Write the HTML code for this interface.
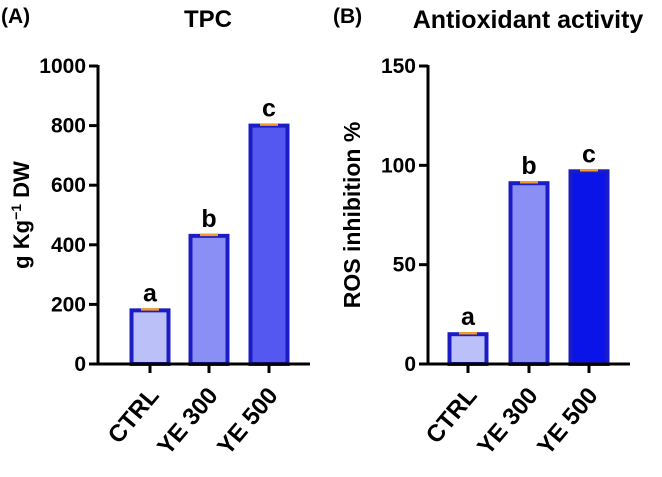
<!DOCTYPE html>
<html><head><meta charset="utf-8"><style>
body{margin:0;background:#fff;width:662px;height:472px;overflow:hidden}
svg{font-family:"Liberation Sans",Arial,sans-serif;font-weight:bold}
</style></head><body>
<svg id="c" width="662" height="472">
<text x="1" y="23" font-size="21">(A)</text>
<text x="208" y="27" font-size="24" text-anchor="middle">TPC</text>
<text x="333" y="23" font-size="21">(B)</text>
<text x="528" y="28" font-size="25" text-anchor="middle">Antioxidant activity</text>
<text transform="translate(29,215) rotate(-90)" font-size="22" text-anchor="middle">g Kg<tspan dy="-8" font-size="14">−1</tspan><tspan dy="8"> DW</tspan></text>
<text transform="translate(360,215) rotate(-90)" font-size="23" text-anchor="middle">ROS inhibition %</text>
</svg>
<script>
const categories=["CTRL","YE 300","YE 500"];
const tpcValues=[180,430,800];
const tpcLetters=["a","b","c"];
const tpcTicks=[0,200,400,600,800,1000];
const rosValues=[15,91,97];
const rosLetters=["a","b","c"];
const rosTicks=[0,50,100,150];
const svg=document.getElementById('c');
const NS="http://www.w3.org/2000/svg";
function mk(t,a){const e=document.createElementNS(NS,t);for(const k in a)e.setAttribute(k,a[k]);svg.appendChild(e);return e;}
function panel(p,axX,axEnd,centers,vals,letters,ticks,max,fills){
  const y0=364,y1=66;
  const Y=v=>y0-(v/max)*(y0-y1);
  vals.forEach((v,i)=>{
    const cx=centers[i],w=37;
    const r=mk('rect',{x:cx-w/2,y:Y(v),width:w,height:y0-Y(v),fill:fills[i],stroke:'#1c1cc4','stroke-width':4});
    
    
    const e=mk('line',{x1:cx-9,x2:cx+9,y1:Y(v)-1,y2:Y(v)-1,stroke:'#f39a2c','stroke-width':2.5});
    
    
    const t=mk('text',{x:cx,y:Y(v)-9,'font-size':25,'text-anchor':'middle'});t.textContent=letters[i];
    
    
    const tk=mk('line',{x1:cx,x2:cx,y1:y0,y2:y0+9,stroke:'#000','stroke-width':3});
    
    
    const lb=mk('text',{transform:`translate(${cx+10},${y0+32}) rotate(-50)`,'font-size':24,'text-anchor':'end'});lb.textContent=categories[i];
    
    
  });
  ticks.forEach(t=>{
    const l=mk('line',{x1:axX-9,x2:axX,y1:Y(t),y2:Y(t),stroke:'#000','stroke-width':3});
    
    
    const tx=mk('text',{x:axX-12,y:Y(t)+7,'font-size':21,'text-anchor':'end'});tx.textContent=t;
    
    
  });
  const ya=mk('line',{x1:axX,x2:axX,y1:y1-1,y2:y0+1.5,stroke:'#000','stroke-width':3});
  
  
  const xa=mk('line',{x1:axX-1.5,x2:axEnd,y1:y0,y2:y0,stroke:'#000','stroke-width':3});
  
  
}
panel('tpc',98,310,[150,209,269],tpcValues,tpcLetters,tpcTicks,1000,['#bcc0f8','#8a8ff5','#5457f0']);
panel('ros',428,630,[468,529,589],rosValues,rosLetters,rosTicks,150,['#bcc0f8','#8a8ff5','#0a14e8']);
</script>
</body></html>
